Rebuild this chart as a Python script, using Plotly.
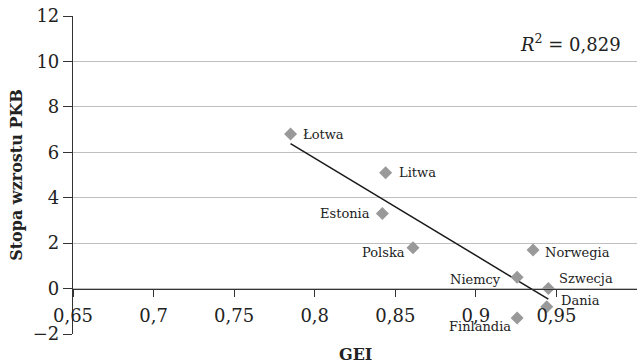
import numpy as np
import plotly.graph_objects as go

countries = ["Łotwa", "Litwa", "Estonia", "Polska", "Norwegia", "Niemcy", "Szwecja", "Dania", "Finlandia"]
gei = [0.785, 0.844, 0.842, 0.861, 0.9355, 0.9256, 0.945, 0.944, 0.9256]
growth = [6.8, 5.1, 3.3, 1.8, 1.7, 0.5, 0.0, -0.8, -1.3]
# label placement (style): anchor side and pixel shifts
label_anchor = ["left", "left", "right", "right", "left", "right", "left", "left", "right"]
label_dx = [10, 11, -10, -6, 10, -14, 9, 12, -4]
label_dy = [0, 0, 0, -5, -3, -2, 10, 6, -8]

x_tickvals = [0.65, 0.7, 0.75, 0.8, 0.85, 0.9, 0.95, 1.0]
x_ticktext = ["0,65", "0,7", "0,75", "0,8", "0,85", "0,9", "0,95", "1"]
y_tickvals = [-2, 0, 2, 4, 6, 8, 10, 12]
y_ticktext = ["\u22122", "0", "2", "4", "6", "8", "10", "12"]
r2_text = "<i>R</i><sup>2</sup> = 0,829"

FONT = "DejaVu Serif"

slope, intercept = np.polyfit(gei, growth, 1)
xfit = [min(gei), max(gei)]
yfit = [slope * v + intercept for v in xfit]

fig = go.Figure()
fig.add_trace(go.Scatter(x=xfit, y=yfit, mode="lines",
                         line=dict(color="#1a1a1a", width=1.5), hoverinfo="skip"))
fig.add_trace(go.Scatter(x=gei, y=growth, mode="markers",
                         marker=dict(symbol="diamond", size=10, color="#999999")))

annotations = []
for name, xv, yv, anc, dx, dy in zip(countries, gei, growth, label_anchor, label_dx, label_dy):
    annotations.append(dict(text=name, x=xv, y=yv, xref="x", yref="y", showarrow=False,
                            xanchor=anc, yanchor="middle", xshift=dx, yshift=dy,
                            font=dict(family=FONT, size=13, color="#222")))
annotations.append(dict(text=r2_text, xref="paper", yref="paper", x=0.975, y=0.915,
                        xanchor="right", yanchor="middle", showarrow=False,
                        font=dict(family=FONT, size=18, color="#222")))
annotations.append(dict(text="<b>GEI</b>", xref="paper", yref="paper", x=0.5, y=-0.066,
                        xanchor="center", yanchor="middle", showarrow=False,
                        font=dict(family=FONT, size=16, color="#222")))

ymin, ymax = -2, 12
fig.update_layout(
    width=637, height=364,
    margin=dict(l=73, r=0, t=16, b=30),
    paper_bgcolor="white", plot_bgcolor="white",
    showlegend=False,
    separators=", ",
    font=dict(family=FONT, color="#222"),
    xaxis=dict(range=[0.65, 1.0], tickvals=x_tickvals, ticktext=x_ticktext,
               anchor="free", position=(0 - ymin) / (ymax - ymin),
               showgrid=False, zeroline=False, showline=True, linecolor="#333", linewidth=1.2,
               ticks="outside", ticklen=7, tickcolor="#333", ticklabelstandoff=4,
               tickfont=dict(family=FONT, size=18, color="#222")),
    yaxis=dict(range=[ymin, ymax], tickvals=y_tickvals, ticktext=y_ticktext,
               showgrid=True, gridcolor="#bfbfbf", gridwidth=1, zeroline=False,
               showline=True, linecolor="#333", linewidth=1.2,
               ticks="outside", ticklen=9, tickcolor="#333",
               tickfont=dict(family=FONT, size=18, color="#222"),
               title=dict(text="<b>Stopa wzrostu PKB</b>", font=dict(family=FONT, size=16), standoff=6)),
    annotations=annotations,
)

fig.write_html("out.html")
